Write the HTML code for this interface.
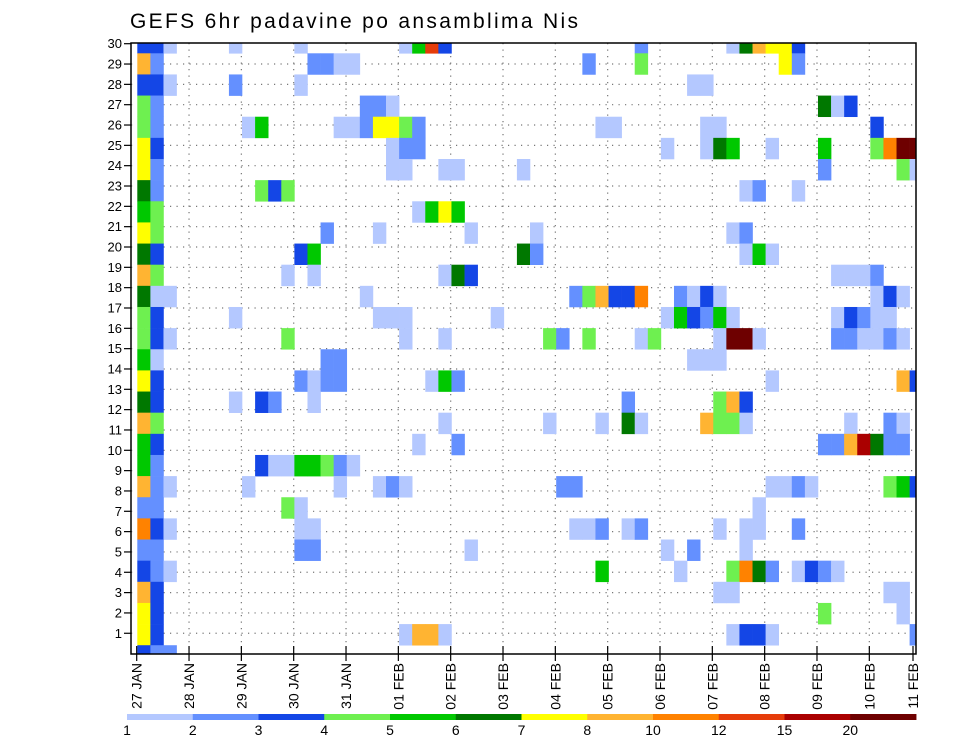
<!DOCTYPE html>
<html><head><meta charset="utf-8"><style>
html,body{margin:0;padding:0;background:#fff;}
svg{display:block;font-family:"Liberation Sans",sans-serif;}
</style></head><body>
<svg id="chart" width="960" height="742" viewBox="0 0 960 742" xmlns="http://www.w3.org/2000/svg">
<text x="130" y="28" font-size="21" textLength="448" lengthAdjust="spacing">GEFS 6hr padavine po ansamblima Nis</text>
<defs><clipPath id="plotclip"><rect x="131" y="43" width="785" height="611"/></clipPath></defs>
<g id="grid"></g>
<g id="cells" clip-path="url(#plotclip)"></g>
<rect x="131" y="43" width="785" height="611" fill="none" stroke="#000" stroke-width="1.5"/>
<g id="axes"></g>
<g id="legend"></g>
</svg>
<script>
const yTickLabels = [1,2,3,4,5,6,7,8,9,10,11,12,13,14,15,16,17,18,19,20,21,22,23,24,25,26,27,28,29,30];
const xTickLabels = ["27 JAN","28 JAN","29 JAN","30 JAN","31 JAN","01 FEB","02 FEB","03 FEB","04 FEB","05 FEB","06 FEB","07 FEB","08 FEB","09 FEB","10 FEB","11 FEB"];
const levelLabels = ["1","2","3","4","5","6","7","8","10","12","15","20"];
const levelColors = ["#b4c8ff","#6490ff","#1446e6","#6ef050","#00c800","#007800","#ffff00","#ffb432","#ff8200","#e63c0a","#aa0000","#6e0000"];
// member rows (top to bottom) and 6-hourly columns with colour level per cell
const cellRows = [30,29,28,27,26,25,24,23,22,21,20,19,18,17,16,15,14,13,12,11,10,9,8,7,6,5,4,3,2,1];
const cellCols = [
[0,1,2,7,12,20,21,22,23,38,45,46,47,48,49,50],
[0,1,13,14,15,16,34,38,49,50],
[0,1,2,7,12,42,43],
[0,1,17,18,19,52,53,54],
[0,1,8,9,15,16,17,18,19,20,21,35,36,43,44,56],
[0,1,19,20,21,40,43,44,45,48,52,56,57,58,59],
[0,1,19,20,23,24,29,52,58,59],
[0,1,9,10,11,46,47,50],
[0,1,21,22,23,24],
[0,1,14,18,25,30,45,46],
[0,1,12,13,29,30,46,47,48],
[0,1,11,13,23,24,25,53,54,55,56],
[0,1,2,17,33,34,35,36,37,38,41,42,43,44,56,57,58],
[0,1,7,18,19,20,27,40,41,42,43,44,45,53,54,55,56,57],
[0,1,2,11,20,23,31,32,34,38,39,44,45,46,47,53,54,55,56,57,58],
[0,1,14,15,42,43,44],
[0,1,12,13,14,15,22,23,24,48,58,59],
[0,1,7,9,10,13,37,44,45,46],
[0,1,23,31,35,37,38,43,44,45,46,54,57,58],
[0,1,21,24,52,53,54,55,56,57,58],
[0,1,9,10,11,12,13,14,15,16],
[0,1,2,8,15,18,19,20,32,33,48,49,50,51,57,58,59],
[0,1,11,12,47],
[0,1,2,12,13,33,34,35,37,38,44,46,47,50],
[0,1,12,13,25,40,42,46],
[0,1,2,35,41,45,46,47,48,50,51,52,53],
[0,1,44,45,57,58],
[0,1,52,58],
[0,1,20,21,22,23,45,46,47,48,59],
[0,1,2]
];
const cellLevels = [
[3,3,1,1,1,1,5,10,3,2,1,6,8,7,7,3],
[8,2,2,2,1,1,2,4,7,2],
[3,3,1,2,1,1,1],
[4,2,2,2,1,6,1,3],
[4,2,1,5,1,1,2,7,7,4,2,1,1,1,1,3],
[7,3,1,2,2,1,1,6,5,1,5,4,9,12,12],
[7,2,1,1,1,1,1,2,4,1],
[6,2,4,3,4,1,2,1],
[5,4,1,5,7,5],
[7,4,2,1,1,1,1,2],
[6,3,3,5,6,2,1,5,1],
[8,4,1,1,1,6,3,1,1,1,2],
[6,1,1,1,2,4,8,3,3,9,2,1,3,1,1,3,1],
[4,3,1,1,1,1,1,1,5,3,2,5,1,1,3,2,1,1],
[4,3,1,4,1,1,4,2,4,1,4,1,12,12,1,2,2,1,1,2,1],
[5,1,2,2,1,1,1],
[7,3,2,1,2,2,1,5,2,1,8,3],
[6,3,1,3,2,1,2,4,8,3],
[8,4,1,1,1,6,1,8,4,4,1,1,2,1],
[5,3,1,2,2,2,8,11,6,2,2],
[5,2,3,1,1,5,5,4,2,1],
[8,2,1,1,1,1,2,1,2,2,1,1,2,1,4,5,3],
[2,2,4,1,1],
[9,3,1,1,1,1,1,2,1,2,1,1,1,2],
[2,2,2,2,1,1,2,1],
[3,2,1,5,1,4,9,6,2,1,3,2,1],
[8,3,1,1,1,1],
[7,3,4,1],
[7,3,1,8,8,1,1,3,3,1,2],
[3,2,2]
];

const NS = "http://www.w3.org/2000/svg";
function mk(tag, attrs, parent){const e=document.createElementNS(NS,tag);for(const k in attrs)e.setAttribute(k,attrs[k]);parent.appendChild(e);return e;}
const PL=131, PR=916, PT=43, PB=654;
const colX = c => 137.3 + c*13.09;
const colW = 13.09;
const rowTop = r => 53.3 + (29 - r)*21.14;
const rowH = 21.14;
const labelY = v => 43.7 + (30 - v)*20.33;
const dayX = d => Math.min(136.7 + d*52.33, 913);
const cbX = i => 127 + i*65.75;

const grid = document.getElementById('grid');
for (let v = 1; v < 30; v++) {
  const l = mk('line',{x1:PL,x2:PR,y1:labelY(v),y2:labelY(v),stroke:'#777','stroke-width':1.2,'stroke-dasharray':'1.2,5.3'},grid);
  
  
}
for (let d = 1; d < 15; d++) {
  const l = mk('line',{x1:dayX(d),x2:dayX(d),y1:PT,y2:PB,stroke:'#777','stroke-width':1.2,'stroke-dasharray':'1.2,5.3'},grid);
  
  
}

const cells = document.getElementById('cells');
cellRows.forEach((r, i) => {
  cellCols[i].forEach((c, j) => {
    const lv = cellLevels[i][j];
    const rc = mk('rect',{x:colX(c).toFixed(2),y:rowTop(r).toFixed(2),width:(colW+0.3).toFixed(2),height:(rowH+0.3).toFixed(2),fill:levelColors[lv-1]},cells);
    
    
  });
});

const axes = document.getElementById('axes');
yTickLabels.forEach(v => {
  const y = labelY(v);
  const t = mk('line',{x1:124,x2:PL,y1:y,y2:y,stroke:'#000','stroke-width':1.2},axes);
  
  
  const tx = mk('text',{x:122,y:y+4.5,'font-size':13,'text-anchor':'end'},axes);
  tx.textContent = v;
  
  
});
xTickLabels.forEach((s, d) => {
  const x = dayX(d);
  const t = mk('line',{x1:x,x2:x,y1:646,y2:661,stroke:'#000','stroke-width':1.2},axes);
  
  
  const tx = mk('text',{transform:`translate(${x+5},663) rotate(-90)`,'font-size':14,'text-anchor':'end'},axes);
  tx.textContent = s;
  
  
});

const legend = document.getElementById('legend');
levelColors.forEach((col, i) => {
  const r = mk('rect',{x:cbX(i),y:714,width:66.2,height:6,fill:col},legend);
  
  
});
levelLabels.forEach((s, i) => {
  const t = mk('text',{x:cbX(i),y:735,'font-size':14,'text-anchor':'middle'},legend);
  t.textContent = s;
  
  
});
</script>
</body></html>
